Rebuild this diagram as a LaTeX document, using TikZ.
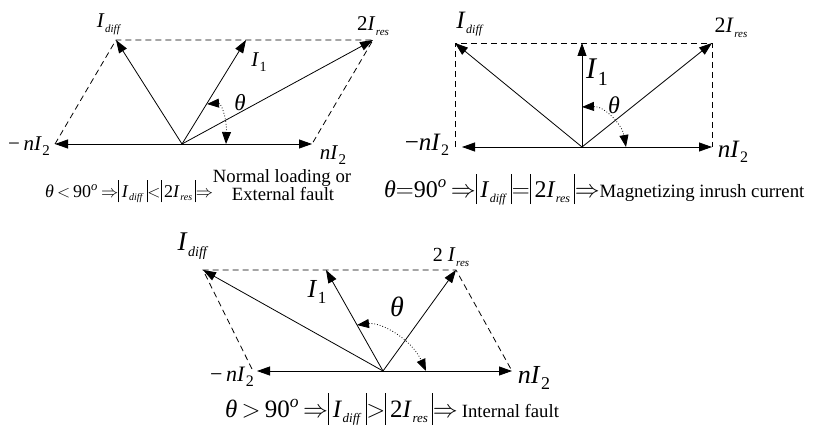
\documentclass[tikz,border=0pt]{standalone}
\usepackage{fontspec}
\setmainfont{Liberation Serif}
\usetikzlibrary{arrows.meta}
\newcommand\fs[1]{\fontsize{#1}{#1}\selectfont}
\newcommand\Ilab[3]{{\fs{#1}\textit{I}\kern0.5pt\raisebox{-0.22em}{\fs{#2}\textit{#3}}}}
\newcommand\Inum[3]{{\fs{#1}\textit{I}\kern0.5pt\raisebox{-0.22em}{\fs{#2}#3}}}
\newcommand\bars[1]{\vrule width 0.7pt height 0.95em depth 0.3em\,#1\,\vrule width 0.7pt height 0.95em depth 0.3em}
\tikzset{
  vec/.style={line width=0.8pt,-{Triangle[length=13pt,width=9pt]}},
  para/.style={line width=0.8pt,dash pattern=on 6pt off 4pt},
  ang/.style={line width=0.8pt,dotted,{Triangle[length=12pt,width=9pt]}-{Triangle[length=12pt,width=9pt]}},
  lab/.style={inner sep=0pt,text=black}
}
\begin{document}
\begin{tikzpicture}[x=1pt,y=-1pt]
\useasboundingbox (0,0) rectangle (813,433);
% ---------- diagram 1 ----------
\coordinate (O1) at (182,144);
\coordinate (L1) at (55,144);
\coordinate (N1) at (312,144);
\coordinate (D1) at (116,40);
\coordinate (C1) at (246,40);
\coordinate (R1) at (373,40);
\coordinate (TA1) at (207,104);
\coordinate (TB1) at (226,144);
\draw[para] (L1) -- (D1) -- (R1) -- (N1);
\draw[vec] (O1) -- (L1);
\draw[vec] (O1) -- (N1);
\draw[vec] (O1) -- (D1);
\draw[vec] (O1) -- (C1);
\draw[vec] (O1) -- (R1);
\draw[ang] (TA1) .. controls (221,103) and (227,118) .. (TB1);
\node[lab] (d1l) at (109,24) {\Ilab{21}{11}{diff}};
\node[lab] (c1l) at (259,62) {\Inum{21}{14}{1}};
\node[lab] (t1l) at (240,103) {\fs{23}\textit{θ}};
\node[lab] (r1l) at (373,26) {\fs{21}2\Ilab{21}{11}{res}};
\node[lab] (l1l) at (29,146) {\fs{21}−\,\textit{n}\Inum{21}{15}{2}};
\node[lab] (n1l) at (333,155) {\fs{21}\textit{n}\Inum{21}{15}{2}};
\node[lab,anchor=base west] (cap1) at (45,197) {\fs{18}\textit{θ}\,$<$\,90\textsuperscript{\textit{o}}\,$\Rightarrow$\bars{\Ilab{18}{10}{diff}}$<$\bars{2\Ilab{18}{10}{res}}$\Rightarrow$};
\node[lab,anchor=base] (nl1) at (282,182) {\fs{18.7}Normal loading or};
\node[lab,anchor=base] (ef1) at (283,200) {\fs{18.7}External fault};
% ---------- diagram 2 ----------
\coordinate (O2) at (582,147);
\coordinate (L2) at (462,147);
\coordinate (N2) at (712,147);
\coordinate (D2) at (455,43);
\coordinate (C2) at (582,43);
\coordinate (R2) at (712,43);
\coordinate (TA2) at (582,107);
\coordinate (TB2) at (626,147);
\coordinate (LL2) at (455,147);
\draw[para] (LL2) -- (D2) -- (R2) -- (N2);
\draw[vec] (O2) -- (L2);
\draw[vec] (O2) -- (N2);
\draw[vec] (O2) -- (D2);
\draw[vec] (O2) -- (C2);
\draw[vec] (O2) -- (R2);
\draw[ang] (TA2) .. controls (604,106) and (622,124) .. (TB2);
\node[lab] (d2l) at (470,24) {\Ilab{25}{12}{diff}};
\node[lab] (c2l) at (597,72) {\Inum{30}{20}{1}};
\node[lab] (t2l) at (614,105) {\fs{24}\textit{θ}};
\node[lab] (r2l) at (731,28) {\fs{22}2\Ilab{22}{11}{res}};
\node[lab] (l2l) at (427,145) {\fs{25}−\textit{n}\Inum{25}{16}{2}};
\node[lab] (n2l) at (733,152) {\fs{25}\textit{n}\Inum{25}{16}{2}};
\node[lab,anchor=base west] (cap2) at (384,197) {\fs{24}\textit{θ}$=$90\textsuperscript{\textit{o}}\,$\Rightarrow$\bars{\Ilab{24}{12}{diff}}$=$\bars{2\Ilab{24}{12}{res}}$\Rightarrow${\fs{18.8}Magnetizing inrush current}};
% ---------- diagram 3 ----------
\coordinate (O3) at (383,371);
\coordinate (L3) at (257,371);
\coordinate (N3) at (512,371);
\coordinate (D3) at (203,270);
\coordinate (C3) at (326,270);
\coordinate (R3) at (456,270);
\coordinate (TA3) at (357,325);
\coordinate (TB3) at (426,371);
\coordinate (LL3) at (252,369);
\draw[para] (LL3) -- (D3) -- (R3) -- (N3);
\draw[vec] (O3) -- (L3);
\draw[vec] (O3) -- (N3);
\draw[vec] (O3) -- (D3);
\draw[vec] (O3) -- (C3);
\draw[vec] (O3) -- (R3);
\draw[ang] (TA3) .. controls (382,322) and (412,340) .. (TB3);
\node[lab] (d3l) at (193,246) {\Ilab{27}{14}{diff}};
\node[lab] (c3l) at (317,292) {\Inum{26}{17}{1}};
\node[lab] (t3l) at (397,307) {\fs{28}\textit{θ}};
\node[lab] (r3l) at (451,257) {\fs{20}2 \Ilab{21}{11}{res}};
\node[lab] (l3l) at (232,377) {\fs{22}−\,\textit{n}\Inum{22}{16}{2}};
\node[lab] (n3l) at (534,378) {\fs{26}\textit{n}\Inum{26}{18}{2}};
\node[lab,anchor=base west] (cap3) at (225,417) {\fs{25}\textit{θ}\,$>$\,90\textsuperscript{\textit{o}}\,$\Rightarrow$\bars{\Ilab{25}{13}{diff}}$>$\bars{2\Ilab{25}{13}{res}}$\Rightarrow$\,{\fs{18.7}Internal fault}};
\end{tikzpicture}
\end{document}
